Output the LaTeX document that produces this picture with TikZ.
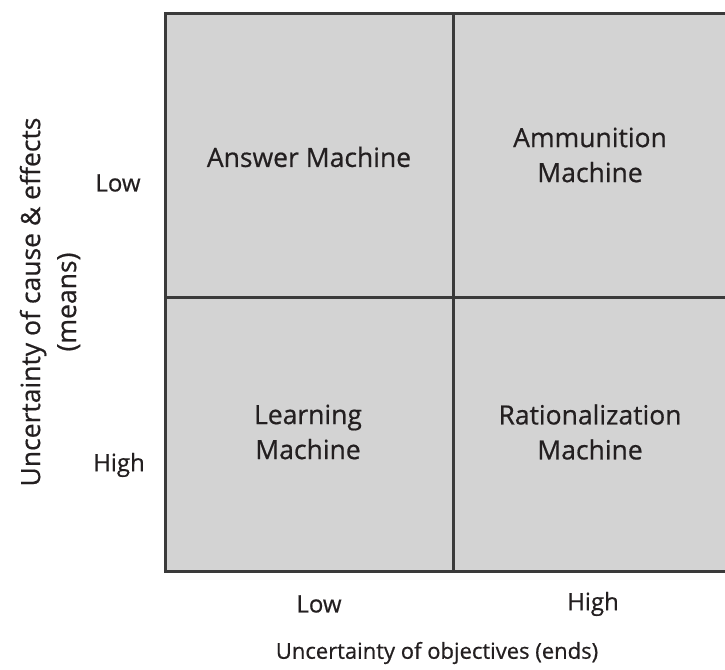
\documentclass[tikz,border=0pt]{standalone}
\usepackage{fontspec}
\setmainfont[FakeBold=0.6]{Open Sans}
\definecolor{cellfill}{HTML}{D3D3D3}
\definecolor{gridline}{HTML}{3A3A3A}
\definecolor{txt}{HTML}{231F20}
\begin{document}
\begin{tikzpicture}[x=1pt,y=1pt,
  lbl/.style={font=\fontsize{22}{34}\selectfont, text=txt, align=center, inner sep=0pt},
  cell/.style={lbl, font=\fontsize{26.5}{35}\selectfont},
  tick/.style={lbl, font=\fontsize{24}{34}\selectfont},
  grid/.style={draw=gridline, line width=3pt}]
\useasboundingbox (0,0) rectangle (725,669);
\fill[cellfill] (165,97) rectangle (728,655);
\draw[grid] (728,655) -- (165,655) -- (165,97) -- (728,97);
\coordinate (vt) at (453,655);
\coordinate (vb) at (453,97);
\coordinate (hl) at (165,371);
\coordinate (hr) at (728,371);
\draw[grid] (vt) -- (vb);
\draw[grid] (hl) -- (hr);
\node[cell] (am) at (309,512) {Answer Machine};
\node[cell] (amm) at (590,514) {Ammunition\\Machine};
\node[cell] (lm) at (308,237) {Learning\\Machine};
\node[cell] (rm) at (590,237) {Rationalization\\Machine};
\node[tick] (ylow) at (118,486) {Low};
\node[tick] (yhigh) at (119,204) {High};
\node[tick] (xlow) at (319,65) {Low};
\node[tick] (xhigh) at (593,65) {High};
\node[lbl] (xt) at (437,16) {Uncertainty of objectives (ends)};
\node[lbl, rotate=90, font=\fontsize{26.5}{36}\selectfont] (yt) at (50,367) {Uncertainty of cause \& effects\\(means)};
\end{tikzpicture}
\end{document}
